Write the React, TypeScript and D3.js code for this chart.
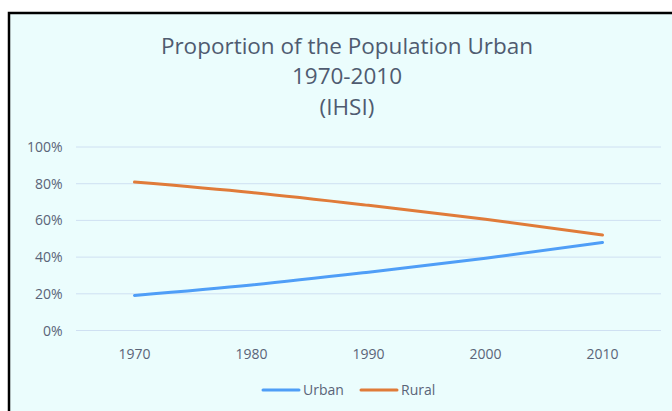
import React from "react";
import * as d3 from "d3";

const years = ["1970", "1980", "1990", "2000", "2010"];
const urban = [19.1, 24.8, 31.8, 39.4, 48.0];
const rural = [80.9, 75.2, 68.2, 60.6, 52.0];
const yTicks = [0, 20, 40, 60, 80, 100];
const titleLines = ["Proportion of the Population Urban", "1970-2010", "(IHSI)"];

const W = 672, H = 411;
const FONT = "'Open Sans', 'Noto Sans', sans-serif";
const TEXT = "#5a6478";

export default function App() {
  const x = d3.scaleBand<string>().domain(years).range([76, 661]);
  const y = d3.scaleLinear().domain([0, 100]).range([330.5, 147]);
  const line = d3
    .line<number>()
    .x((_, i) => (x(years[i]) as number) + x.bandwidth() / 2)
    .y((d) => y(d))
    .curve(d3.curveMonotoneX);
  const series = [
    { name: "Urban", values: urban, color: "#4f9ef7", lx: 263, tx: 303 },
    { name: "Rural", values: rural, color: "#e07b39", lx: 361, tx: 401 },
  ];
  return (
    <svg
      width={W}
      height={H}
      style={{ position: "absolute", left: 0, top: 0 }}
    >
      <rect x={0} y={0} width={W} height={H} fill="#ffffff" />
      <rect x={9} y={13} width={720} height={440} fill="#ebfdfd" stroke="#000" strokeWidth={2.5} />
      {titleLines.map((t, i) => (
        <text
          key={i}
          x={347}
          y={53.5 + i * 30.5}
          textAnchor="middle"
          fontFamily={FONT}
          fontSize={22.5}
          fill="#4f5b70"
        >
          {t}
        </text>
      ))}
      {yTicks.map((t) => (
        <g key={t}>
          <line x1={76} x2={661} y1={y(t)} y2={y(t)} stroke="#cfe0f2" strokeWidth={1} />
          <text
            x={62.5}
            y={y(t) + 5}
            textAnchor="end"
            fontFamily={FONT}
            fontSize={14}
            fill={TEXT}
          >
            {t}%
          </text>
        </g>
      ))}
      {years.map((yr) => (
        <text
          key={yr}
          x={(x(yr) as number) + x.bandwidth() / 2}
          y={358.5}
          textAnchor="middle"
          fontFamily={FONT}
          fontSize={14}
          fill={TEXT}
        >
          {yr}
        </text>
      ))}
      {series.map((s) => (
        <path
          key={s.name}
          d={line(s.values) || ""}
          fill="none"
          stroke={s.color}
          strokeWidth={3}
          strokeLinecap="round"
        />
      ))}
      {series.map((s) => (
        <g key={s.name}>
          <line x1={s.lx} x2={s.lx + 36} y1={390} y2={390} stroke={s.color} strokeWidth={3} strokeLinecap="round" />
          <text x={s.tx} y={394.5} fontFamily={FONT} fontSize={14} fill={TEXT}>
            {s.name}
          </text>
        </g>
      ))}
    </svg>
  );
}
